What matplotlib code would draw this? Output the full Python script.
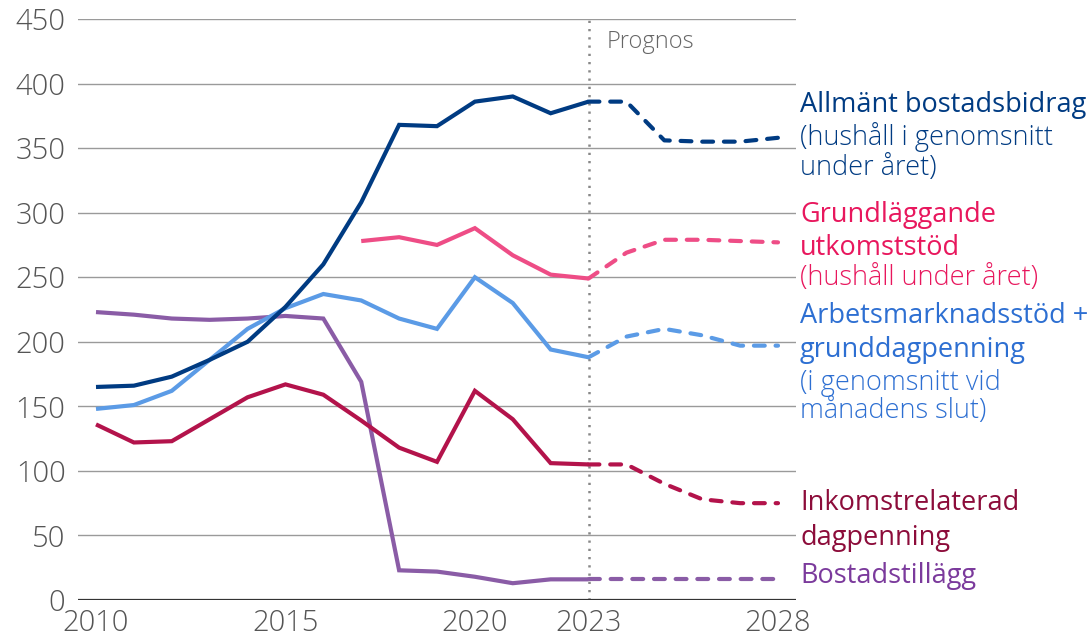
import matplotlib
matplotlib.use("Agg")
import matplotlib.pyplot as plt

# ---- data ----
years_hist = [2010, 2011, 2012, 2013, 2014, 2015, 2016, 2017, 2018, 2019, 2020, 2021, 2022, 2023]
years_fc = [2023, 2024, 2025, 2026, 2027, 2028]

bostadsbidrag_hist = [165, 166, 173, 186, 200, 227, 260, 308, 368, 367, 386, 390, 377, 386]
bostadsbidrag_fc = [386, 386, 356, 355, 355, 358]

grund_years_hist = [2017, 2018, 2019, 2020, 2021, 2022, 2023]
grund_hist = [278, 281, 275, 288, 267, 252, 249]
grund_fc = [249, 269, 279, 279, 278, 277]

arbets_hist = [148, 151, 162, 186, 210, 226, 237, 232, 218, 210, 250, 230, 194, 188]
arbets_fc = [188, 204, 210, 205, 197, 197]

inkomst_hist = [136, 122, 123, 140, 157, 167, 159, 139, 118, 107, 162, 140, 106, 105]
inkomst_fc = [105, 105, 90, 78, 75, 75]

tillagg_hist = [223, 221, 218, 217, 218, 220, 218, 169, 23, 22, 18, 13, 16, 16]
tillagg_fc = [16, 16, 16, 16, 16, 16]

y_ticks = [0, 50, 100, 150, 200, 250, 300, 350, 400, 450]
x_ticks = [2010, 2015, 2020, 2023, 2028]
forecast_start = 2023
forecast_label = "Prognos"

labels = [
    [("Allmänt bostadsbidrag", "bold"), ("(hushåll i genomsnitt", "light"), ("under året)", "light")],
    [("Grundläggande", "bold"), ("utkomststöd", "bold"), ("(hushåll under året)", "light")],
    [("Arbetsmarknadsstöd +", "bold"), ("grunddagpenning", "bold"), ("(i genomsnitt vid", "light"), ("månadens slut)", "light")],
    [("Inkomstrelaterad", "bold"), ("dagpenning", "bold")],
    [("Bostadstillägg", "bold")],
]

# ---- styles ----
line_colors = ["#003B82", "#EE4D86", "#5B9BE6", "#B3134B", "#8A5CA6"]
text_colors = ["#003B82", "#E8175D", "#2D6FD2", "#8C0C3A", "#7B3A9C"]
label_baselines_px = [[112, 145, 175], [222, 255, 285], [323, 357, 390, 418], [510, 545], [583]]

FAM = "Open Sans"
W, H = 1090, 637
fig = plt.figure(figsize=(W / 100, H / 100), dpi=100)
ax = fig.add_axes([78 / W, 1 - 600 / H, (796 - 78) / W, (600 - 19) / H])
ax.set_xlim(2009.525, 2028.475)
ax.set_ylim(0, 450)

for t in y_ticks[1:]:
    ax.axhline(t, color="#9a9a9a", lw=1.0, zorder=1)
ax.axhline(0, color="#333333", lw=1.6, zorder=5)

ax.axvline(forecast_start, color="#888888", lw=1.8, ls=(0, (0.9, 2.4)), zorder=2)

series = [
    (years_hist, bostadsbidrag_hist, bostadsbidrag_fc),
    (grund_years_hist, grund_hist, grund_fc),
    (years_hist, arbets_hist, arbets_fc),
    (years_hist, inkomst_hist, inkomst_fc),
    (years_hist, tillagg_hist, tillagg_fc),
]
order = [4, 3, 2, 1, 0]
for i in order:
    xs, hist, fc = series[i]
    c = line_colors[i]
    ax.plot(xs, hist, color=c, lw=3.0, solid_capstyle="butt", solid_joinstyle="miter", zorder=3)
    ax.plot(years_fc, fc, color=c, lw=3.0, ls=(0, (2.6, 2.6)), dash_capstyle="round",
            dash_joinstyle="round", zorder=3)

for s in ax.spines.values():
    s.set_visible(False)
ax.set_yticks(y_ticks)
ax.set_xticks(x_ticks)
ax.tick_params(axis="both", length=0, labelsize=21, labelcolor="#555555")
ax.tick_params(axis="y", pad=9)
ax.tick_params(axis="x", pad=6)
for lab in ax.get_xticklabels() + ax.get_yticklabels():
    lab.set_fontfamily(FAM)
    lab.set_fontweight("light")

ax.text(forecast_start + (603 - 585) / 37.9, 450 - (48 - 19) / 1.2911, forecast_label,
        fontsize=17, color="#666666", family=FAM, weight="light", va="baseline")

for i, group in enumerate(labels):
    for (txt, kind), ypx in zip(group, label_baselines_px[i]):
        fig.text(800 / W, 1 - ypx / H, txt, color=text_colors[i], fontsize=19.5,
                 family=FAM, weight=("medium" if kind == "bold" else "light"), va="baseline")

fig.savefig("out.png", dpi=100)
